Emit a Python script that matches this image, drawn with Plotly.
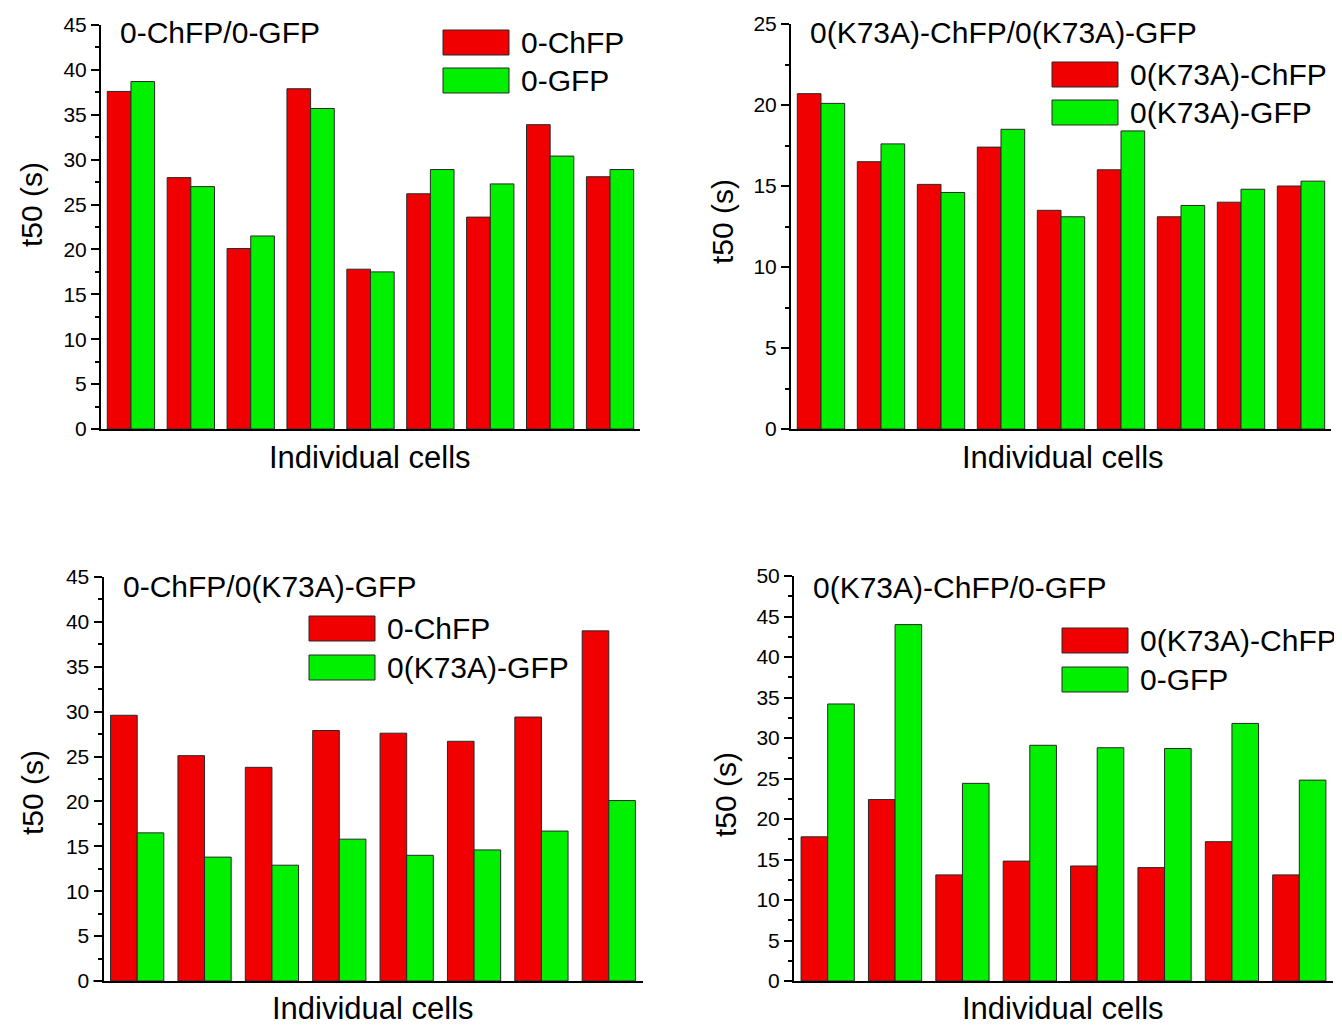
import plotly.graph_objects as go

# page body has an 8px margin; figure coordinates are offset accordingly
OFF = 8
W, H = 1342 - OFF, 1030
FONT = "Liberation Sans, Arial, sans-serif"
RED = "rgb(240,0,0)"
GREEN = "rgb(0,240,0)"
OUTLINE = "rgb(40,40,40)"

# ---------------- data ----------------
p1_title = "0-ChFP/0-GFP"
p1_names = ["0-ChFP", "0-GFP"]
p1_red = [37.6, 28.0, 20.1, 37.9, 17.8, 26.2, 23.6, 33.9, 28.1]
p1_green = [38.7, 27.0, 21.5, 35.7, 17.5, 28.9, 27.3, 30.4, 28.9]

p2_title = "0(K73A)-ChFP/0(K73A)-GFP"
p2_names = ["0(K73A)-ChFP", "0(K73A)-GFP"]
p2_red = [20.7, 16.5, 15.1, 17.4, 13.5, 16.0, 13.1, 14.0, 15.0]
p2_green = [20.1, 17.6, 14.6, 18.5, 13.1, 18.4, 13.8, 14.8, 15.3]

p3_title = "0-ChFP/0(K73A)-GFP"
p3_names = ["0-ChFP", "0(K73A)-GFP"]
p3_red = [29.6, 25.1, 23.8, 27.9, 27.6, 26.7, 29.4, 39.0]
p3_green = [16.5, 13.8, 12.9, 15.8, 14.0, 14.6, 16.7, 20.1]

p4_title = "0(K73A)-ChFP/0-GFP"
p4_names = ["0(K73A)-ChFP", "0-GFP"]
p4_red = [17.8, 22.4, 13.1, 14.8, 14.2, 14.0, 17.2, 13.1]
p4_green = [34.2, 44.0, 24.4, 29.1, 28.8, 28.7, 31.8, 24.8]

y_title = "t50 (s)"
x_title = "Individual cells"
y_max = [45, 25, 45, 50]

# ---------------- layout helpers (page pixels -> paper) ----------------
def fx(px):
    return (px - OFF) / W

def fy(py):
    return 1 - (py - OFF) / H

panels = [
    dict(title=p1_title, names=p1_names, red=p1_red, green=p1_green,
         xd=(101, 640), yd=(25, 429), tt=(118, 33), leg=(443, 30, 68),
         ytl=(31, 205), xtl=(370, 457)),
    dict(title=p2_title, names=p2_names, red=p2_red, green=p2_green,
         xd=(791, 1331), yd=(24, 429), tt=(808, 33), leg=(1052, 62, 100),
         ytl=(723, 222), xtl=(1063, 457)),
    dict(title=p3_title, names=p3_names, red=p3_red, green=p3_green,
         xd=(103.5, 642.5), yd=(577, 981), tt=(121, 586), leg=(309, 616, 655),
         ytl=(32, 792), xtl=(373, 1008)),
    dict(title=p4_title, names=p4_names, red=p4_red, green=p4_green,
         xd=(794, 1333), yd=(576, 981), tt=(811, 587), leg=(1062, 628, 667),
         ytl=(725, 795), xtl=(1063, 1008)),
]

fig = go.Figure()
layout = dict(
    template="none",
    width=W, height=H,
    margin=dict(l=0, r=0, t=0, b=0, pad=0, autoexpand=False),
    paper_bgcolor="white", plot_bgcolor="white",
    barmode="group", bargap=0.21, bargroupgap=0,
    showlegend=False,
    font=dict(family=FONT, color="black"),
)
shapes = []
annotations = []

for i, p in enumerate(panels, start=1):
    xa = "x" if i == 1 else f"x{i}"
    ya = "y" if i == 1 else f"y{i}"
    n = len(p["red"])
    idx = list(range(n))
    fig.add_trace(go.Bar(x=idx, y=p["red"], name=p["names"][0], xaxis=xa, yaxis=ya,
                         marker=dict(color=RED, line=dict(color=OUTLINE, width=1)),
                         offsetgroup="a"))
    fig.add_trace(go.Bar(x=idx, y=p["green"], name=p["names"][1], xaxis=xa, yaxis=ya,
                         marker=dict(color=GREEN, line=dict(color=OUTLINE, width=1)),
                         offsetgroup="b"))
    xkey = "xaxis" if i == 1 else f"xaxis{i}"
    ykey = "yaxis" if i == 1 else f"yaxis{i}"
    layout[xkey] = dict(
        domain=[fx(p["xd"][0]), fx(p["xd"][1])], anchor=ya,
        range=[-0.5, n - 0.5], showticklabels=False, ticks="", automargin=False,
        showgrid=False, zeroline=False, showline=True, linecolor="black", linewidth=2,
    )
    layout[ykey] = dict(
        domain=[fy(p["yd"][1]), fy(p["yd"][0])], anchor=xa, automargin=False,
        range=[0, y_max[i - 1]], dtick=5, tick0=0,
        ticks="outside", ticklen=8, tickwidth=1.5, tickcolor="black",
        minor=dict(dtick=2.5, ticks="outside", ticklen=4, tickwidth=1.5, tickcolor="black"),
        showgrid=False, zeroline=False, showline=True, linecolor="black", linewidth=2,
        tickfont=dict(family=FONT, size=21, color="black"),
    )
    # x-axis line extends slightly left of the y-axis
    yb = p["yd"][1]
    shapes.append(dict(type="line", xref="paper", yref="paper",
                       x0=fx(p["xd"][0] - 10), x1=fx(p["xd"][0]), y0=fy(yb), y1=fy(yb),
                       line=dict(color="black", width=2)))
    # panel title
    annotations.append(dict(text=p["title"], xref="paper", yref="paper",
                            x=fx(p["tt"][0]), y=fy(p["tt"][1]), xanchor="left", yanchor="middle",
                            showarrow=False, font=dict(family=FONT, size=30, color="black")))
    # manual legend
    lx, ry, gy = p["leg"]
    for (top, col, name) in [(ry, RED, p["names"][0]), (gy, GREEN, p["names"][1])]:
        shapes.append(dict(type="rect", xref="paper", yref="paper",
                           x0=fx(lx), x1=fx(lx + 66), y0=fy(top + 25), y1=fy(top),
                           fillcolor=col, line=dict(color=OUTLINE, width=1)))
        annotations.append(dict(text=name, xref="paper", yref="paper",
                                x=fx(lx + 76), y=fy(top + 12.5), xanchor="left", yanchor="middle",
                                showarrow=False, font=dict(family=FONT, size=30, color="black")))
    # axis titles
    annotations.append(dict(text=y_title, xref="paper", yref="paper",
                            x=fx(p["ytl"][0]), y=fy(p["ytl"][1]), xanchor="center", yanchor="middle",
                            textangle=-90, showarrow=False,
                            font=dict(family=FONT, size=30, color="black")))
    annotations.append(dict(text=x_title, xref="paper", yref="paper",
                            x=fx(p["xtl"][0]), y=fy(p["xtl"][1]), xanchor="center", yanchor="middle",
                            showarrow=False, font=dict(family=FONT, size=31, color="black")))

layout["shapes"] = shapes
layout["annotations"] = annotations
fig.update_layout(**layout)
fig.write_html("out.html")
